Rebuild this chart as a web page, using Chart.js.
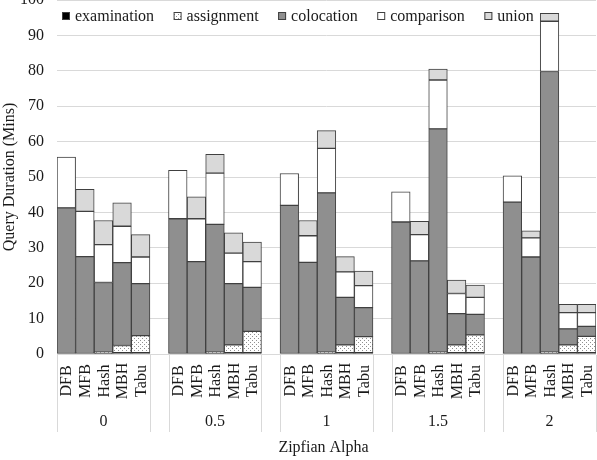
<!DOCTYPE html>
<html lang="en">
<head>
    <meta charset="UTF-8">
    <title>Query Duration vs Zipfian Alpha</title>
    <script src="https://cdn.jsdelivr.net/npm/chart.js"></script>
    <style>
        body { margin: 0; background: #fff; }
    </style>
</head>

<body>
    <canvas id="durationChart" width="597" height="460"></canvas>

    <script>
        // Groups on the outer axis, methods on the inner axis
        const alphas = ['0', '0.5', '1', '1.5', '2'];
        const methods = ['DFB', 'MFB', 'Hash', 'MBH', 'Tabu'];

        // Segment heights in minutes, 5 per alpha (DFB, MFB, Hash, MBH, Tabu)
        const examination = [
            0, 0, 0.3, 0.4, 0.4,
            0, 0, 0.3, 0.4, 0.4,
            0, 0, 0.3, 0.4, 0.4,
            0, 0, 0.3, 0.4, 0.4,
            0, 0, 0.3, 0.4, 0.4
        ];
        const assignment = [
            0, 0, 0.2, 2.0, 4.8,
            0, 0, 0.2, 2.2, 6.0,
            0, 0, 0.2, 2.2, 4.5,
            0, 0, 0.2, 2.2, 5.0,
            0, 0, 0.2, 2.2, 4.6
        ];
        const colocation = [
            41.3, 27.5, 19.7, 23.4, 14.7,
            38.2, 26.1, 36.1, 17.3, 12.4,
            42.0, 25.9, 45.0, 13.4, 8.2,
            37.3, 26.3, 63.1, 8.8, 5.8,
            42.9, 27.4, 79.3, 4.5, 2.8
        ];
        const comparison = [
            14.3, 12.8, 10.7, 10.3, 7.5,
            13.7, 12.1, 14.5, 8.6, 7.3,
            9.0, 7.5, 12.6, 7.2, 6.2,
            8.5, 7.4, 13.8, 5.7, 4.8,
            7.4, 5.4, 14.2, 4.6, 3.9
        ];
        const union = [
            0, 6.2, 6.8, 6.6, 6.3,
            0, 6.2, 5.3, 5.7, 5.5,
            0, 4.3, 5.0, 4.3, 4.1,
            0, 3.8, 3.1, 3.8, 3.5,
            0, 2.0, 2.2, 2.3, 2.3
        ];

        const FONT = "'Liberation Serif', Tinos, 'Times New Roman', 'DejaVu Serif', serif";
        const TEXT = '#1a1a1a';
        const EDGE = '#404040';

        // Category list with an empty slot between groups
        const labels = [];
        const groupOf = [];
        alphas.forEach((a, ai) => {
            methods.forEach(m => { labels.push(m); groupOf.push(ai); });
            if (ai < alphas.length - 1) { labels.push(''); groupOf.push(-1); }
        });
        function spread(values) {
            const out = [];
            alphas.forEach((a, ai) => {
                for (let k = 0; k < methods.length; k++) out.push(values[ai * methods.length + k]);
                if (ai < alphas.length - 1) out.push(null);
            });
            return out;
        }

        // Dotted fill for assignment
        function dotPattern() {
            const c = document.createElement('canvas');
            c.width = 4; c.height = 4;
            const g = c.getContext('2d');
            g.fillStyle = '#ffffff';
            g.fillRect(0, 0, 4, 4);
            g.fillStyle = '#909090';
            g.fillRect(0, 0, 1, 1);
            g.fillRect(2, 2, 1, 1);
            return document.getElementById('durationChart').getContext('2d').createPattern(c, 'repeat');
        }
        const dots = dotPattern();

        const series = [
            { label: 'examination', data: examination, color: '#000000' },
            { label: 'assignment', data: assignment, color: dots },
            { label: 'colocation', data: colocation, color: '#8f8f8f' },
            { label: 'comparison', data: comparison, color: '#ffffff' },
            { label: 'union', data: union, color: '#d9d9d9' }
        ];

        // Legend, inner/outer category labels and axis title drawn by hand
        const excelAxis = {
            id: 'excelAxis',
            afterDraw(chart) {
                const ctx = chart.ctx;
                const xs = chart.scales.x;
                const area = chart.chartArea;
                const slot = (area.right - area.left) / labels.length;
                ctx.save();
                ctx.fillStyle = TEXT;
                ctx.font = '16px ' + FONT;

                // inner labels, rotated
                labels.forEach((lab, i) => {
                    if (!lab) return;
                    const x = xs.getPixelForValue(i);
                    ctx.save();
                    ctx.translate(x, 381);
                    ctx.rotate(-Math.PI / 2);
                    ctx.textAlign = 'center';
                    ctx.textBaseline = 'middle';
                    ctx.fillText(lab, 0, 1);
                    ctx.restore();
                });

                // group labels and separators
                ctx.strokeStyle = '#d9d9d9';
                ctx.lineWidth = 1;
                alphas.forEach((a, ai) => {
                    const first = groupOf.indexOf(ai);
                    const last = groupOf.lastIndexOf(ai);
                    const x0 = xs.getPixelForValue(first) - slot / 2;
                    const x1 = xs.getPixelForValue(last) + slot / 2;
                    [x0, x1].forEach(x => {
                        const px = Math.round(x) + 0.5;
                        ctx.beginPath();
                        ctx.moveTo(px, area.bottom + 1);
                        ctx.lineTo(px, 432);
                        ctx.stroke();
                    });
                    ctx.textAlign = 'center';
                    ctx.textBaseline = 'middle';
                    ctx.fillText(a, (x0 + x1) / 2, 422);
                });

                // x axis title
                ctx.fillText('Zipfian Alpha', (area.left + area.right) / 2 - 3, 448);

                // legend
                let lx = 62;
                ctx.textAlign = 'left';
                ctx.textBaseline = 'middle';
                series.forEach(s => {
                    ctx.fillStyle = s.color;
                    ctx.fillRect(lx, 12, 8, 8);
                    ctx.strokeStyle = EDGE;
                    ctx.strokeRect(lx + 0.5, 12.5, 7, 7);
                    ctx.fillStyle = TEXT;
                    ctx.fillText(s.label, lx + 13, 17);
                    lx += 13 + ctx.measureText(s.label).width + 19.5;
                });
                ctx.restore();
            }
        };

        const ctx = document.getElementById('durationChart').getContext('2d');
        const durationChart = new Chart(ctx, {
            type: 'bar',
            data: {
                labels: labels,
                datasets: series.map(s => ({
                    label: s.label,
                    data: spread(s.data),
                    backgroundColor: s.color,
                    borderColor: EDGE,
                    borderWidth: 1,
                    borderSkipped: false,
                    barPercentage: 1,
                    categoryPercentage: 1
                }))
            },
            options: {
                responsive: false,
                animation: false,
                layout: { padding: { top: 0, right: 1, bottom: 106, left: 0 } },
                plugins: {
                    legend: { display: false },
                    tooltip: { enabled: false }
                },
                scales: {
                    x: {
                        stacked: true,
                        display: false
                    },
                    y: {
                        stacked: true,
                        min: 0,
                        max: 100,
                        ticks: {
                            stepSize: 10,
                            padding: 13,
                            color: TEXT,
                            font: { family: FONT, size: 16 }
                        },
                        grid: { color: '#d9d9d9', drawTicks: false },
                        border: { display: false },
                        title: {
                            display: true,
                            text: 'Query Duration (Mins)',
                            color: TEXT,
                            font: { family: FONT, size: 16 },
                            padding: { top: 0, bottom: 0 }
                        },
                        afterFit(scale) {
                            scale.width = 57;
                            scale.paddingTop = 0;
                            scale.paddingBottom = 0;
                        }
                    }
                }
            },
            plugins: [excelAxis]
        });
    </script>
</body>
</html>
